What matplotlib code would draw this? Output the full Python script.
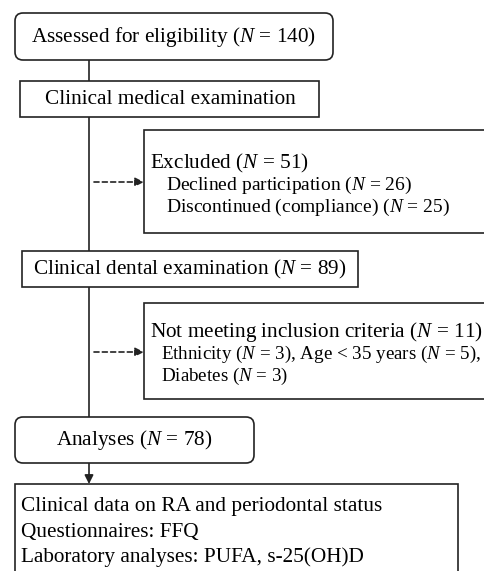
import matplotlib
matplotlib.use("Agg")
import matplotlib.pyplot as plt
from matplotlib.patches import FancyBboxPatch, Rectangle

plt.rcParams['font.family'] = ['Liberation Serif', 'DejaVu Serif']
plt.rcParams['mathtext.fontset'] = 'custom'
plt.rcParams['mathtext.rm'] = 'Liberation Serif'
plt.rcParams['mathtext.it'] = 'Liberation Serif:italic'

# Flowchart content
main_steps = [
    "Assessed for eligibility ($N$ = 140)",
    "Clinical medical examination",
    "Clinical dental examination ($N$ = 89)",
    "Analyses ($N$ = 78)",
]
excluded_head = "Excluded ($N$ = 51)"
excluded_items = ["Declined participation ($N$ = 26)",
                  "Discontinued (compliance) ($N$ = 25)"]
notmeet_head = "Not meeting inclusion criteria ($N$ = 11)"
notmeet_items = ["Ethnicity ($N$ = 3), Age < 35 years ($N$ = 5),",
                 "Diabetes ($N$ = 3)"]
final_lines = ["Clinical data on RA and periodontal status",
               "Questionnaires: FFQ",
               "Laboratory analyses: PUFA, s-25(OH)D"]

W, H = 485, 571
fig = plt.figure(figsize=(W/100, H/100), dpi=100)
ax = fig.add_axes([0, 0, 1, 1])
ax.set_xlim(0, W)
ax.set_ylim(H, 0)
ax.axis('off')

lw = 1.2
fs = 15.3
fs_sub = 14
col = '#222222'

def rbox(x0, y0, x1, y1):
    ax.add_patch(FancyBboxPatch((x0, y0), x1-x0, y1-y0,
                                boxstyle="round,pad=0,rounding_size=8",
                                fc='white', ec=col, lw=lw, zorder=3))

def box(x0, y0, x1, y1):
    ax.add_patch(Rectangle((x0, y0), x1-x0, y1-y0, fc='white', ec=col,
                           lw=lw, zorder=3, clip_on=False))

xc = 89
# main vertical line
ax.plot([xc, xc], [60, 417], color=col, lw=lw, zorder=1)
# arrow to final box
ax.annotate("", xy=(xc, 484), xytext=(xc, 463),
            arrowprops=dict(arrowstyle='-|>', color=col, lw=lw,
                            mutation_scale=13, shrinkA=0, shrinkB=0))

# main boxes
rbox(15, 13, 333, 60)
ax.text(174, 37, main_steps[0], ha='center', va='center', fontsize=fs, zorder=4)
box(20, 81, 319, 117)
ax.text(170, 99.5, main_steps[1], ha='center', va='center', fontsize=fs, zorder=4)
box(22, 251, 358, 287)
ax.text(190, 269.5, main_steps[2], ha='center', va='center', fontsize=fs, zorder=4)
rbox(15, 417, 254, 463)
ax.text(134.5, 440, main_steps[3], ha='center', va='center', fontsize=fs, zorder=4)

# exclusion boxes
box(144, 130, 495, 233)
ax.text(150, 163, excluded_head, ha='left', va='center', fontsize=fs, zorder=4)
for i, t in enumerate(excluded_items):
    ax.text(166, 185 + i*22, t, ha='left', va='center', fontsize=fs_sub, zorder=4)
box(144, 303, 495, 399)
ax.text(150, 332, notmeet_head, ha='left', va='center', fontsize=fs, zorder=4)
for i, t in enumerate(notmeet_items):
    ax.text(161, 354 + i*22.5, t, ha='left', va='center', fontsize=13.7, zorder=4)

# dashed arrows
for y in (182, 352):
    ax.annotate("", xy=(144, y), xytext=(94, y),
                arrowprops=dict(arrowstyle='-|>', color=col, lw=lw, ls=(0, (3, 2)),
                                mutation_scale=13, shrinkA=0, shrinkB=0))

# final box
box(15, 484, 458, 600)
for i, t in enumerate(final_lines):
    ax.text(21, 507 + i*25, t, ha='left', va='center', fontsize=fs, zorder=4)

fig.savefig("out.png", dpi=100)
